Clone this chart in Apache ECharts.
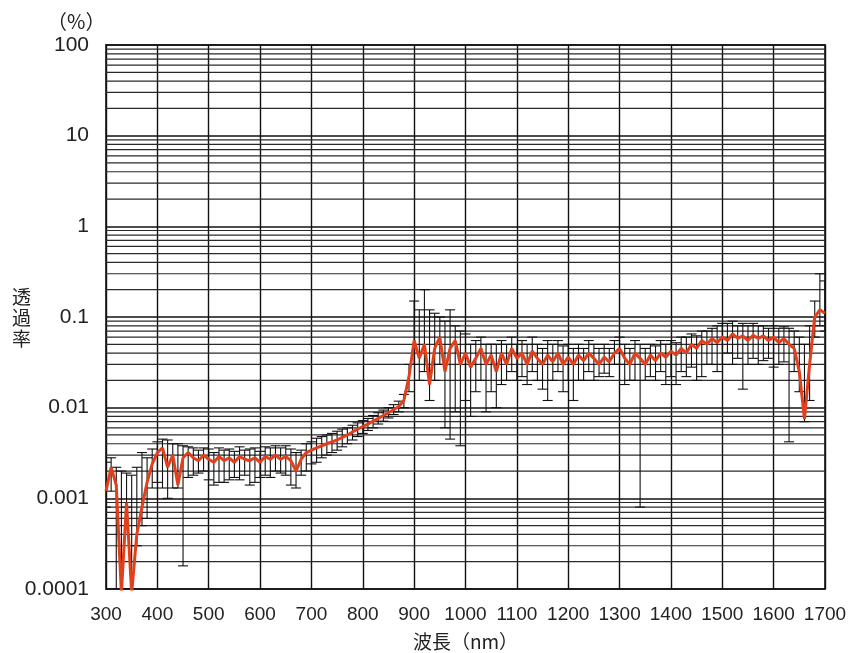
<!DOCTYPE html>
<html>
<head>
<meta charset="utf-8">
<script src="https://cdn.jsdelivr.net/npm/echarts@6/dist/echarts.min.js"></script>
<style>
html,body{margin:0;padding:0;background:#fff;}
#c{width:853px;height:653px;}
</style>
</head>
<body>
<div id="c"></div>
<script>
// wavelength (nm)
const wavelengths = [300,310,320,330,340,350,360,370,380,390,400,410,420,430,440,450,460,470,480,490,500,510,520,530,540,550,560,570,580,590,600,610,620,630,640,650,660,670,680,690,700,710,720,730,740,750,760,770,780,790,800,810,820,830,840,850,860,870,880,890,900,910,920,930,940,950,960,970,980,990,1000,1010,1020,1030,1040,1050,1060,1070,1080,1090,1100,1110,1120,1130,1140,1150,1160,1170,1180,1190,1200,1210,1220,1230,1240,1250,1260,1270,1280,1290,1300,1310,1320,1330,1340,1350,1360,1370,1380,1390,1400,1410,1420,1430,1440,1450,1460,1470,1480,1490,1500,1510,1520,1530,1540,1550,1560,1570,1580,1590,1600,1610,1620,1630,1640,1650,1660,1670,1680,1690,1700];
// transmittance (%)
const transmittance = [0.0012,0.0022,0.0014,0.00009,0.0009,0.00009,0.0004,0.0008,0.0015,0.0024,0.0032,0.0036,0.0022,0.0030,0.0014,0.0028,0.0032,0.0028,0.0026,0.0030,0.0027,0.0025,0.0029,0.0026,0.0028,0.0025,0.0029,0.0027,0.0026,0.0028,0.0025,0.0029,0.0027,0.0030,0.0027,0.0029,0.0026,0.0020,0.0027,0.0032,0.0034,0.0036,0.0038,0.0040,0.0042,0.0044,0.0047,0.0050,0.0054,0.0058,0.0062,0.0066,0.0071,0.0076,0.0082,0.0088,0.0095,0.0103,0.0120,0.022,0.055,0.035,0.050,0.018,0.045,0.060,0.025,0.045,0.055,0.030,0.040,0.028,0.035,0.045,0.030,0.038,0.025,0.040,0.030,0.045,0.035,0.040,0.030,0.042,0.035,0.030,0.038,0.032,0.040,0.030,0.036,0.030,0.038,0.033,0.040,0.035,0.030,0.036,0.032,0.040,0.045,0.035,0.030,0.040,0.035,0.030,0.038,0.033,0.040,0.036,0.042,0.038,0.045,0.040,0.050,0.045,0.055,0.050,0.058,0.052,0.060,0.055,0.065,0.058,0.062,0.055,0.063,0.058,0.062,0.055,0.060,0.052,0.058,0.050,0.045,0.025,0.0075,0.030,0.100,0.120,0.110];
// error bar upper ends (%)
const errHigh = [0.0025,0.0028,0.0022,0.002,0.0019,0.0018,0.0022,0.0032,0.0028,0.0035,0.0042,0.0045,0.0044,0.004,0.004,0.0038,0.0037,0.0036,0.0034,0.0036,0.0035,0.0032,0.0036,0.0034,0.0035,0.0033,0.0037,0.0034,0.0035,0.0036,0.0033,0.0037,0.0036,0.0038,0.0036,0.0038,0.0035,0.0032,0.0034,0.0040,0.0042,0.0046,0.0048,0.0050,0.0052,0.0055,0.0058,0.0060,0.0064,0.0068,0.0072,0.0076,0.0082,0.0088,0.0094,0.0100,0.0108,0.0118,0.0140,0.030,0.15,0.12,0.2,0.12,0.11,0.10,0.09,0.12,0.08,0.07,0.065,0.05,0.055,0.06,0.05,0.05,0.05,0.055,0.05,0.06,0.05,0.055,0.05,0.06,0.05,0.045,0.055,0.05,0.055,0.048,0.05,0.045,0.05,0.045,0.055,0.05,0.045,0.05,0.045,0.055,0.06,0.05,0.045,0.055,0.05,0.045,0.05,0.048,0.055,0.05,0.055,0.052,0.06,0.06,0.065,0.062,0.07,0.07,0.075,0.08,0.085,0.085,0.09,0.08,0.085,0.08,0.085,0.08,0.08,0.075,0.08,0.075,0.078,0.075,0.07,0.06,0.05,0.08,0.15,0.30,0.25];
// error bar lower ends (%)
const errLow = [0.0008,0.0012,0.0001,0.0001,0.0008,0.0001,0.0003,0.0005,0.0006,0.0013,0.0015,0.0013,0.001,0.0013,0.0013,0.00018,0.0017,0.0018,0.0019,0.002,0.0016,0.0014,0.0015,0.0015,0.0016,0.0017,0.0016,0.0018,0.0014,0.0015,0.0017,0.0018,0.0017,0.0020,0.0019,0.0018,0.0014,0.0013,0.0018,0.0020,0.0024,0.0025,0.0028,0.0030,0.0032,0.0034,0.0037,0.0040,0.0044,0.0048,0.0052,0.0056,0.0060,0.0066,0.0071,0.0077,0.0084,0.0090,0.0100,0.015,0.03,0.02,0.025,0.012,0.02,0.03,0.006,0.0045,0.009,0.0038,0.012,0.008,0.015,0.02,0.009,0.015,0.01,0.018,0.02,0.025,0.02,0.022,0.018,0.025,0.02,0.016,0.012,0.02,0.025,0.015,0.02,0.012,0.02,0.02,0.025,0.02,0.022,0.024,0.022,0.03,0.03,0.018,0.02,0.02,0.0008,0.02,0.022,0.02,0.025,0.018,0.022,0.018,0.025,0.022,0.028,0.02,0.022,0.03,0.03,0.025,0.03,0.04,0.03,0.035,0.016,0.03,0.035,0.03,0.033,0.035,0.028,0.03,0.032,0.0042,0.025,0.015,0.007,0.012,0.06,0.08,0.07];

const xTicks = [300,400,500,600,700,800,900,1000,1100,1200,1300,1400,1500,1600,1700];
const yTickLabels = ['0.0001','0.001','0.01','0.1','1','10','100'];
const decadeExps = [-4,-3,-2,-1,0,1];
const minorMultipliers = [2,3,4,5,6,7,8,9];

const minorGrid = [];
decadeExps.forEach(e => minorMultipliers.forEach(k => minorGrid.push([300, k * Math.pow(10, e)])));

const lineData = wavelengths.map((w, i) => [w, transmittance[i]]);
const errData = wavelengths.map((w, i) => [w, errLow[i], errHigh[i]]);

const chart = echarts.init(document.getElementById('c'), null, {renderer: 'canvas'});
const FONT = '"Liberation Sans", Arial, sans-serif';
chart.setOption({
  animation: false,
  backgroundColor: '#fff',
  grid: {left: 106, right: 28, top: 45, bottom: 64, show: true, borderColor: '#444', borderWidth: 2,
    backgroundColor: 'transparent', containLabel: false, outerBoundsMode: 'none'},
  xAxis: {
    type: 'value', min: 300, max: 1700, interval: 100,
    name: '波長（nm）', nameLocation: 'middle', nameGap: 43,
    nameTextStyle: {color: '#222', fontSize: 19, fontFamily: '"Noto Sans CJK JP", sans-serif'},
    axisLine: {show: false}, axisTick: {show: false},
    axisLabel: {color: '#222', fontSize: 19, margin: 16, fontFamily: FONT,
      formatter: v => xTicks.indexOf(v) >= 0 ? String(v) : ''},
    splitLine: {show: true, lineStyle: {color: '#111', width: 1.4}}
  },
  yAxis: {
    type: 'log', logBase: 10, min: 0.0001, max: 100,
    axisLine: {show: false}, axisTick: {show: false},
    axisLabel: {color: '#222', fontSize: 21, margin: 17, fontFamily: FONT,
      formatter: v => yTickLabels[Math.round(Math.log10(v)) + 4] || ''},
    splitLine: {show: true, lineStyle: {color: '#111', width: 1.6}}
  },
  graphic: [
    {type: 'text', left: 47, top: 11, style: {text: '（%）', fill: '#222', font: '20px "Noto Sans CJK JP", sans-serif'}},
    {type: 'text', left: 12, top: 286, style: {text: '透\n過\n率', fill: '#222', font: '19px "Noto Sans CJK JP", sans-serif', lineHeight: 21}}
  ],
  series: [
    {
      type: 'custom', z: 1, silent: true, clip: true,
      renderItem: function (params, api) {
        const cs = params.coordSys;
        const p = api.coord([api.value(0), api.value(1)]);
        return {type: 'line', shape: {x1: cs.x, y1: p[1], x2: cs.x + cs.width, y2: p[1]},
          style: {stroke: '#2a2a2a', lineWidth: 1.2}};
      },
      encode: {x: 0, y: 1},
      data: minorGrid
    },
    {
      type: 'custom', z: 3, silent: true,
      renderItem: function (params, api) {
        const x = api.value(0);
        const lo = api.coord([x, api.value(1)]);
        const hi = api.coord([x, api.value(2)]);
        const h = 5;
        const st = {stroke: '#111', lineWidth: 1.1};
        return {type: 'group', children: [
          {type: 'line', shape: {x1: lo[0], y1: lo[1], x2: hi[0], y2: hi[1]}, style: st},
          {type: 'line', shape: {x1: lo[0]-h, y1: lo[1], x2: lo[0]+h, y2: lo[1]}, style: st},
          {type: 'line', shape: {x1: hi[0]-h, y1: hi[1], x2: hi[0]+h, y2: hi[1]}, style: st}
        ]};
      },
      encode: {x: 0, y: [1, 2]},
      data: errData,
      clip: true
    },
    {
      type: 'line', z: 4, data: lineData, showSymbol: false, clip: true,
      lineStyle: {color: '#e2401c', width: 3}
    }
  ]
});
</script>
</body>
</html>
